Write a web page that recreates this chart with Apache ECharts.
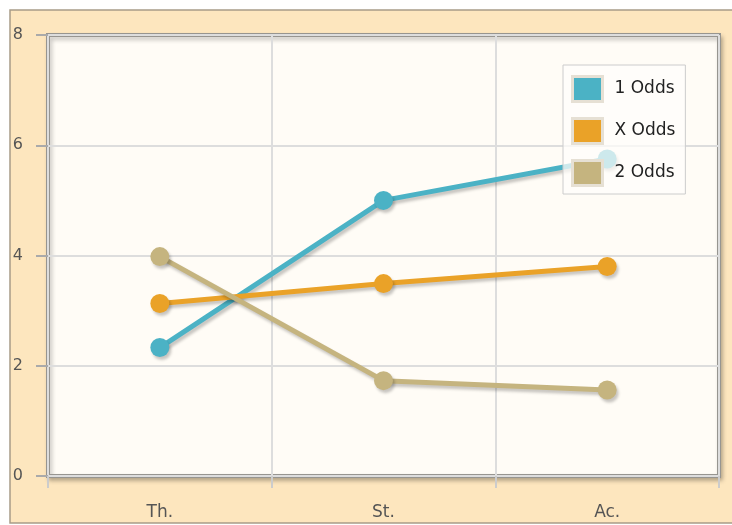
<!DOCTYPE html>
<html><head><meta charset="utf-8">
<script src="https://cdn.jsdelivr.net/npm/echarts@6/dist/echarts.min.js"></script>
<style>html,body{margin:0;padding:0;background:#fff}#c{width:732px;height:525px}</style>
</head><body><div id="c"></div>
<script>
const categories = ['Th.', 'St.', 'Ac.'];
const seriesNames = ['1 Odds', 'X Odds', '2 Odds'];
const odds1 = [2.33, 5.0, 5.75];
const oddsX = [3.13, 3.49, 3.8];
const odds2 = [3.98, 1.73, 1.56];
const yTicks = [0, 2, 4, 6, 8];
const colors = ['#4BB2C5', '#EAA228', '#C5B47F'];

const chart = echarts.init(document.getElementById('c'), null, {renderer: 'canvas'});
const font = 'DejaVu Sans';
function mk(name, data, color) {
  return {
    name: name, type: 'line', data: data,
    symbol: 'circle', symbolSize: 19,
    z: 2,
    lineStyle: {width: 5, color: color, shadowColor: 'rgba(0,0,0,0.22)', shadowBlur: 3, shadowOffsetX: 2, shadowOffsetY: 3},
    itemStyle: {color: color, shadowColor: 'rgba(0,0,0,0.22)', shadowBlur: 3, shadowOffsetX: 2, shadowOffsetY: 3},
    emphasis: {disabled: true}
  };
}
chart.setOption({
  animation: false,
  backgroundColor: '#fff',
  graphic: [{
    type: 'rect', z: -10, silent: true,
    shape: {x: 10, y: 10, width: 740, height: 513},
    style: {fill: '#FDE6BE', stroke: '#A89C88', lineWidth: 1.5}
  }],
  grid: {
    left: 48, top: 35, right: 13, bottom: 49,
    show: true, backgroundColor: '#FFFCF6',
    borderColor: '#979590', borderWidth: 4,
    shadowColor: 'rgba(0,0,0,0.22)', shadowBlur: 4, shadowOffsetX: 2, shadowOffsetY: 3
  },
  legend: {
    z: 10,
    orient: 'vertical', left: 563, top: 65,
    data: seriesNames.map((n, i) => ({name: n, icon: 'rect', itemStyle: {color: colors[i], borderColor: '#E6E0D4', borderWidth: 3}})),
    itemWidth: 30, itemHeight: 25, itemGap: 14,
    padding: [10, 10, 7, 8],
    backgroundColor: 'rgba(255,254,251,0.72)', borderColor: '#ccc', borderWidth: 1,
    textStyle: {fontFamily: font, fontSize: 17, color: '#222', padding: [0, 0, 0, 7]}
  },
  xAxis: {
    type: 'category', data: categories, boundaryGap: true,
    axisLine: {show: false},
    axisTick: {show: true, alignWithLabel: false, length: 12, lineStyle: {color: '#ccc', width: 2}},
    splitLine: {show: true, lineStyle: {color: '#ddd', width: 2}},
    axisLabel: {margin: 28, fontFamily: font, fontSize: 17, color: '#555'}
  },
  yAxis: {
    type: 'value', min: 0, max: 8, interval: 2,
    axisLine: {show: false},
    axisTick: {show: true, length: 12, lineStyle: {color: '#aaa', width: 2}},
    splitLine: {show: true, lineStyle: {color: '#ddd', width: 2}},
    axisLabel: {margin: 25, fontFamily: font, fontSize: 16, color: '#555',
      formatter: v => yTicks.indexOf(v) >= 0 ? String(v) : ''}
  },
  series: [mk(seriesNames[0], odds1, colors[0]), mk(seriesNames[1], oddsX, colors[1]), mk(seriesNames[2], odds2, colors[2])]
});
</script></body></html>
